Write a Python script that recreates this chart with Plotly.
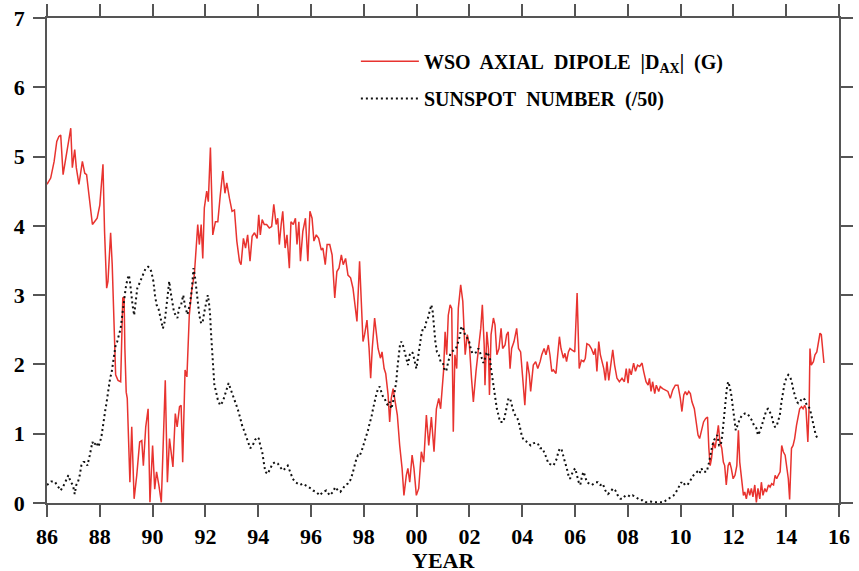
import numpy as np
import plotly.graph_objects as go

# ---- data (years given as yy offsets from 1900) ----
dipole_yy = [
    86.00, 86.14, 86.27, 86.37, 86.45, 86.52, 86.61, 86.71, 86.80, 86.90, 86.96, 87.05, 87.11, 87.21, 87.34,
    87.43, 87.50, 87.59, 87.65, 87.72, 87.80, 87.90, 88.00, 88.12, 88.18, 88.26, 88.31, 88.41, 88.47, 88.54,
    88.60, 88.69, 88.79, 88.87, 88.92, 88.95, 89.00, 89.04, 89.10, 89.14, 89.21, 89.30, 89.40, 89.51, 89.59,
    89.65, 89.74, 89.83, 89.90, 90.00, 90.08, 90.15, 90.24, 90.33, 90.48, 90.56, 90.64, 90.77, 90.86, 90.93,
    91.02, 91.08, 91.14, 91.23, 91.30, 91.39, 91.49, 91.58, 91.65, 91.71, 91.77, 91.84, 91.90, 91.96, 92.05,
    92.11, 92.19, 92.28, 92.38, 92.47, 92.56, 92.66, 92.74, 92.81, 92.91, 93.01, 93.10, 93.19, 93.29, 93.35,
    93.44, 93.52, 93.60, 93.69, 93.77, 93.86, 93.96, 94.02, 94.08, 94.15, 94.23, 94.32, 94.42, 94.51, 94.59,
    94.68, 94.74, 94.80, 94.87, 94.93, 95.02, 95.09, 95.18, 95.24, 95.33, 95.41, 95.47, 95.54, 95.60, 95.69,
    95.79, 95.88, 95.96, 96.04, 96.11, 96.20, 96.29, 96.39, 96.45, 96.54, 96.61, 96.71, 96.80, 96.90, 96.98,
    97.06, 97.15, 97.22, 97.31, 97.40, 97.50, 97.59, 97.65, 97.74, 97.84, 97.91, 97.97, 98.03, 98.12, 98.20,
    98.26, 98.32, 98.41, 98.47, 98.54, 98.63, 98.69, 98.77, 98.83, 98.92, 98.98, 99.04, 99.11, 99.19, 99.27,
    99.36, 99.45, 99.52, 99.61, 99.67, 99.74, 99.83, 99.90, 99.99, 100.08, 100.18, 100.27, 100.37, 100.46, 100.56,
    100.66, 100.75, 100.84, 100.91, 101.02, 101.08, 101.14, 101.20, 101.27, 101.33, 101.39, 101.45, 101.52, 101.58, 101.67,
    101.75, 101.84, 101.92, 102.00, 102.08, 102.15, 102.25, 102.34, 102.43, 102.49, 102.56, 102.59, 102.66, 102.72, 102.76,
    102.82, 102.91, 102.97, 103.04, 103.12, 103.20, 103.26, 103.35, 103.41, 103.47, 103.54, 103.60, 103.69, 103.79, 103.86,
    103.94, 104.01, 104.10, 104.19, 104.27, 104.32, 104.42, 104.51, 104.59, 104.68, 104.74, 104.83, 104.90, 104.99, 105.05,
    105.12, 105.18, 105.28, 105.34, 105.41, 105.47, 105.56, 105.62, 105.68, 105.75, 105.81, 105.88, 105.99, 106.08, 106.16,
    106.24, 106.33, 106.39, 106.45, 106.54, 106.62, 106.71, 106.77, 106.83, 106.90, 106.96, 107.02, 107.09, 107.15, 107.21,
    107.28, 107.34, 107.43, 107.50, 107.59, 107.68, 107.78, 107.87, 107.94, 108.01, 108.06, 108.13, 108.22, 108.29, 108.37,
    108.45, 108.54, 108.60, 108.69, 108.77, 108.82, 108.88, 108.94, 109.02, 109.08, 109.17, 109.23, 109.32, 109.42, 109.52,
    109.61, 109.70, 109.80, 109.90, 109.99, 110.05, 110.12, 110.18, 110.24, 110.31, 110.37, 110.43, 110.52, 110.59, 110.66,
    110.72, 110.79, 110.87, 110.95, 111.02, 111.07, 111.12, 111.17, 111.24, 111.31, 111.37, 111.43, 111.49, 111.56, 111.62,
    111.67, 111.73, 111.80, 111.86, 111.92, 111.99, 112.06, 112.13, 112.19, 112.24, 112.30, 112.38, 112.43, 112.49, 112.56,
    112.62, 112.68, 112.74, 112.81, 112.87, 112.93, 113.00, 113.06, 113.12, 113.19, 113.25, 113.33, 113.39, 113.45, 113.52,
    113.58, 113.64, 113.70, 113.77, 113.83, 113.89, 113.96, 114.02, 114.08, 114.13, 114.20, 114.26, 114.32, 114.39, 114.45,
    114.51, 114.58, 114.64, 114.70, 114.75, 114.82, 114.87, 114.90, 114.95, 115.03, 115.09, 115.16, 115.22, 115.28, 115.33,
    115.38, 115.43,
]
dipole_g = [
    4.60, 4.69, 4.93, 5.22, 5.29, 5.31, 4.74, 4.98, 5.15, 5.41, 4.84, 5.10, 4.84, 4.60, 4.93,
    4.76, 4.74, 4.45, 4.30, 4.02, 4.06, 4.11, 4.30, 4.89, 3.92, 3.10, 3.20, 3.90, 3.44, 2.62,
    1.85, 1.77, 1.75, 2.96, 2.97, 2.23, 1.60, 1.51, 0.79, 0.30, 1.10, 0.06, 0.40, 0.88, 0.90,
    0.54, 1.10, 1.36, 0.01, 0.83, 0.20, 0.45, 0.25, 0.01, 1.77, 0.30, 0.93, 0.52, 1.29, 1.10,
    1.39, 1.41, 0.59, 1.92, 1.82, 2.71, 3.10, 3.29, 3.68, 4.02, 3.73, 4.02, 3.53, 4.26, 4.50,
    4.35, 5.13, 3.87, 4.06, 4.06, 4.43, 4.79, 4.47, 4.62, 4.40, 4.21, 4.23, 3.78, 3.49, 3.44,
    3.82, 3.68, 3.87, 3.49, 3.85, 3.90, 3.82, 4.16, 3.87, 4.09, 4.02, 4.02, 3.97, 3.99, 4.31,
    4.02, 4.11, 3.73, 4.02, 4.21, 3.68, 3.87, 3.39, 4.06, 4.02, 4.11, 3.73, 4.06, 3.49, 3.92,
    4.11, 3.49, 4.21, 4.11, 3.78, 3.87, 3.82, 3.65, 3.68, 3.44, 3.73, 3.73, 3.58, 2.96, 3.34,
    3.39, 3.58, 3.44, 3.53, 3.29, 3.25, 3.10, 2.91, 2.62, 3.49, 2.71, 2.33, 2.43, 2.64, 2.23,
    1.80, 2.23, 2.67, 2.47, 2.23, 2.09, 2.18, 1.94, 1.87, 1.56, 1.17, 1.51, 1.65, 1.46, 1.27,
    0.83, 0.50, 0.11, 0.40, 0.50, 0.30, 0.69, 0.50, 0.11, 0.21, 0.74, 0.59, 1.27, 0.83, 1.24,
    0.74, 1.36, 1.51, 1.36, 1.90, 2.47, 2.14, 2.71, 2.86, 2.81, 1.03, 2.14, 1.94, 2.81, 3.15,
    2.91, 2.14, 2.43, 2.28, 1.80, 1.46, 1.90, 2.23, 2.52, 2.86, 2.28, 1.70, 2.47, 2.23, 1.56,
    2.43, 2.67, 2.57, 2.14, 2.23, 2.52, 2.23, 2.28, 2.43, 2.47, 1.94, 2.23, 2.33, 2.52, 2.23,
    2.18, 1.85, 1.41, 2.04, 1.85, 1.61, 1.99, 2.04, 1.94, 2.04, 2.14, 2.23, 2.14, 2.28, 2.14,
    1.90, 1.92, 1.87, 2.14, 2.40, 2.23, 2.09, 2.16, 2.04, 2.18, 2.23, 2.21, 2.18, 3.03, 1.94,
    2.06, 2.04, 2.09, 2.30, 2.28, 2.23, 2.14, 2.23, 1.90, 2.33, 2.14, 2.04, 1.94, 1.77, 2.04,
    1.77, 1.94, 2.21, 1.99, 1.80, 1.75, 1.80, 1.75, 1.94, 1.73, 1.94, 1.85, 2.02, 1.90, 1.99,
    1.97, 2.02, 1.90, 1.75, 1.70, 1.80, 1.61, 1.75, 1.58, 1.70, 1.61, 1.68, 1.65, 1.63, 1.61,
    1.51, 1.63, 1.70, 1.70, 1.51, 1.32, 1.56, 1.61, 1.56, 1.61, 1.58, 1.46, 1.36, 1.17, 0.98,
    0.93, 1.03, 1.17, 1.22, 1.24, 0.79, 0.54, 0.64, 0.88, 0.79, 0.98, 1.12, 0.88, 0.79, 0.59,
    0.54, 0.26, 0.54, 0.59, 0.50, 0.35, 0.40, 0.54, 1.05, 0.59, 0.40, 0.11, 0.16, 0.06, 0.21,
    0.11, 0.21, 0.09, 0.26, 0.01, 0.21, 0.06, 0.30, 0.11, 0.21, 0.16, 0.26, 0.23, 0.28, 0.26,
    0.40, 0.35, 0.40, 0.45, 0.83, 0.74, 0.69, 0.50, 0.35, 0.05, 0.79, 0.83, 0.93, 1.12, 1.27,
    1.36, 1.39, 1.36, 1.41, 1.36, 0.88, 1.41, 2.23, 1.99, 2.04, 2.14, 2.18, 2.33, 2.45, 2.43,
    2.23, 2.02,
]

sunspot_yy = [
    86.00, 86.16, 86.29, 86.39, 86.52, 86.64, 86.71, 86.81, 86.90, 86.98, 87.05, 87.11, 87.17, 87.24, 87.30,
    87.38, 87.46, 87.53, 87.62, 87.72, 87.78, 87.87, 87.94, 88.01, 88.07, 88.13, 88.20, 88.26, 88.32, 88.39,
    88.45, 88.50, 88.55, 88.60, 88.66, 88.73, 88.79, 88.85, 88.92, 88.98, 89.04, 89.10, 89.14, 89.19, 89.24,
    89.30, 89.36, 89.42, 89.48, 89.55, 89.61, 89.67, 89.74, 89.83, 89.90, 89.95, 90.03, 90.09, 90.15, 90.22,
    90.28, 90.34, 90.39, 90.46, 90.52, 90.58, 90.63, 90.68, 90.75, 90.81, 90.87, 90.94, 91.00, 91.08, 91.16,
    91.23, 91.32, 91.42, 91.49, 91.55, 91.61, 91.65, 91.71, 91.77, 91.84, 91.90, 91.96, 92.03, 92.09, 92.13,
    92.18, 92.21, 92.25, 92.28, 92.30, 92.34, 92.40, 92.47, 92.56, 92.66, 92.74, 92.82, 92.88, 92.95, 93.04,
    93.14, 93.22, 93.31, 93.39, 93.48, 93.57, 93.64, 93.70, 93.79, 93.88, 93.96, 94.02, 94.08, 94.15, 94.21,
    94.27, 94.36, 94.45, 94.55, 94.64, 94.74, 94.83, 94.93, 95.03, 95.12, 95.21, 95.31, 95.41, 95.50, 95.59,
    95.69, 95.79, 95.89, 95.99, 96.08, 96.20, 96.33, 96.45, 96.58, 96.71, 96.83, 96.92, 97.02, 97.11, 97.21,
    97.30, 97.40, 97.49, 97.57, 97.65, 97.72, 97.78, 97.84, 97.91, 97.97, 98.03, 98.10, 98.16, 98.22, 98.29,
    98.35, 98.41, 98.47, 98.54, 98.60, 98.66, 98.73, 98.79, 98.85, 98.92, 98.98, 99.04, 99.11, 99.17, 99.23,
    99.27, 99.32, 99.37, 99.42, 99.48, 99.55, 99.61, 99.67, 99.74, 99.80, 99.86, 99.93, 99.99, 100.05, 100.12,
    100.18, 100.24, 100.31, 100.37, 100.43, 100.49, 100.56, 100.61, 100.66, 100.71, 100.77, 100.84, 100.91, 101.00, 101.04,
    101.12, 101.20, 101.27, 101.33, 101.42, 101.49, 101.58, 101.65, 101.68, 101.73, 101.80, 101.86, 101.92, 101.99, 102.05,
    102.11, 102.18, 102.28, 102.34, 102.40, 102.47, 102.53, 102.59, 102.66, 102.72, 102.78, 102.82, 102.87, 102.91, 102.97,
    103.04, 103.10, 103.16, 103.22, 103.29, 103.35, 103.41, 103.48, 103.54, 103.60, 103.67, 103.73, 103.82, 103.88, 103.92,
    103.98, 104.05, 104.15, 104.23, 104.32, 104.42, 104.51, 104.59, 104.68, 104.77, 104.87, 104.93, 104.99, 105.08, 105.18,
    105.25, 105.31, 105.37, 105.43, 105.50, 105.56, 105.62, 105.69, 105.75, 105.81, 105.88, 105.94, 106.01, 106.08, 106.14,
    106.20, 106.27, 106.33, 106.39, 106.45, 106.54, 106.64, 106.77, 106.87, 106.96, 107.05, 107.15, 107.25, 107.34, 107.44,
    107.53, 107.62, 107.72, 107.81, 107.91, 108.01, 108.10, 108.18, 108.29, 108.39, 108.47, 108.56, 108.66, 108.77, 108.88,
    108.98, 109.07, 109.17, 109.27, 109.36, 109.45, 109.55, 109.64, 109.74, 109.83, 109.90, 109.96, 110.03, 110.09, 110.18,
    110.26, 110.33, 110.41, 110.49, 110.56, 110.63, 110.71, 110.79, 110.85, 110.99, 111.08, 111.14, 111.20, 111.27, 111.33,
    111.39, 111.46, 111.52, 111.58, 111.62, 111.67, 111.71, 111.75, 111.80, 111.86, 111.92, 111.96, 112.00, 112.05, 112.09,
    112.15, 112.25, 112.34, 112.43, 112.53, 112.62, 112.69, 112.78, 112.87, 112.93, 113.00, 113.06, 113.12, 113.19, 113.25,
    113.31, 113.38, 113.44, 113.50, 113.57, 113.63, 113.69, 113.76, 113.82, 113.88, 113.94, 114.00, 114.08, 114.15, 114.21,
    114.27, 114.34, 114.40, 114.46, 114.53, 114.59, 114.65, 114.71, 114.78, 114.84, 114.90, 114.95, 115.01, 115.06, 115.12,
    115.18, 115.24,
]
sunspot_over50 = [
    0.26, 0.31, 0.31, 0.26, 0.18, 0.26, 0.33, 0.40, 0.30, 0.26, 0.13, 0.26, 0.30, 0.40, 0.54,
    0.59, 0.59, 0.54, 0.69, 0.88, 0.83, 0.88, 0.81, 0.88, 0.98, 1.17, 1.32, 1.46, 1.65, 1.80,
    1.89, 2.04, 2.14, 2.28, 2.33, 2.43, 2.52, 2.71, 2.96, 3.10, 3.22, 3.29, 3.20, 3.00, 2.86,
    2.71, 2.91, 3.10, 3.15, 3.22, 3.29, 3.34, 3.39, 3.41, 3.39, 3.34, 3.20, 3.00, 2.86, 2.81,
    2.71, 2.62, 2.52, 2.62, 2.81, 3.05, 3.20, 3.05, 2.86, 2.76, 2.71, 2.67, 2.81, 2.86, 3.00,
    2.84, 2.72, 2.88, 3.10, 3.39, 3.25, 3.10, 2.91, 2.71, 2.59, 2.62, 2.76, 2.91, 3.00, 2.91,
    2.71, 2.47, 2.23, 2.04, 1.85, 1.70, 1.61, 1.49, 1.41, 1.46, 1.56, 1.65, 1.73, 1.65, 1.56,
    1.46, 1.36, 1.24, 1.12, 1.03, 0.93, 0.83, 0.79, 0.83, 0.91, 0.95, 0.93, 0.83, 0.74, 0.59,
    0.45, 0.42, 0.50, 0.57, 0.59, 0.57, 0.52, 0.47, 0.50, 0.54, 0.45, 0.35, 0.30, 0.28, 0.26,
    0.28, 0.26, 0.23, 0.21, 0.18, 0.16, 0.11, 0.16, 0.18, 0.11, 0.16, 0.23, 0.18, 0.16, 0.21,
    0.26, 0.28, 0.33, 0.42, 0.54, 0.64, 0.69, 0.68, 0.74, 0.81, 0.88, 0.95, 1.05, 1.15, 1.24,
    1.36, 1.49, 1.56, 1.65, 1.68, 1.61, 1.53, 1.51, 1.44, 1.41, 1.46, 1.36, 1.46, 1.61, 1.75,
    1.94, 2.14, 2.28, 2.33, 2.28, 2.18, 2.09, 1.99, 2.14, 2.18, 2.16, 2.04, 1.94, 2.09, 2.28,
    2.43, 2.52, 2.52, 2.62, 2.67, 2.76, 2.86, 2.76, 2.52, 2.33, 2.18, 2.14, 2.04, 2.02, 1.94,
    1.90, 2.04, 2.14, 2.18, 2.21, 2.23, 2.33, 2.43, 2.52, 2.55, 2.47, 2.40, 2.38, 2.33, 2.23,
    2.16, 2.16, 2.18, 2.23, 2.18, 2.09, 2.02, 2.09, 2.18, 2.14, 2.09, 1.94, 1.80, 1.65, 1.51,
    1.36, 1.27, 1.17, 1.17, 1.17, 1.27, 1.41, 1.51, 1.51, 1.41, 1.32, 1.27, 1.22, 1.15, 1.08,
    0.98, 0.91, 0.89, 0.86, 0.83, 0.86, 0.87, 0.86, 0.79, 0.79, 0.71, 0.64, 0.57, 0.55, 0.54,
    0.59, 0.64, 0.74, 0.79, 0.76, 0.69, 0.59, 0.50, 0.40, 0.35, 0.42, 0.47, 0.50, 0.40, 0.30,
    0.26, 0.40, 0.45, 0.38, 0.30, 0.28, 0.26, 0.30, 0.30, 0.26, 0.28, 0.18, 0.13, 0.16, 0.21,
    0.18, 0.11, 0.06, 0.06, 0.11, 0.11, 0.09, 0.11, 0.09, 0.06, 0.04, 0.04, 0.01, 0.01, 0.02,
    0.01, 0.01, 0.01, 0.02, 0.01, 0.04, 0.06, 0.09, 0.11, 0.16, 0.21, 0.26, 0.30, 0.26, 0.28,
    0.26, 0.30, 0.35, 0.40, 0.42, 0.45, 0.42, 0.50, 0.45, 0.45, 0.59, 0.74, 0.83, 0.91, 0.95,
    0.98, 0.83, 0.83, 0.98, 1.17, 1.36, 1.51, 1.65, 1.75, 1.68, 1.56, 1.41, 1.32, 1.17, 1.05,
    1.12, 1.22, 1.27, 1.29, 1.29, 1.24, 1.20, 1.12, 1.08, 0.98, 1.03, 1.10, 1.17, 1.24, 1.34,
    1.36, 1.32, 1.27, 1.17, 1.10, 1.10, 1.17, 1.27, 1.46, 1.61, 1.73, 1.80, 1.85, 1.82, 1.75,
    1.63, 1.53, 1.46, 1.44, 1.46, 1.51, 1.51, 1.49, 1.41, 1.39, 1.36, 1.27, 1.17, 1.08, 0.98,
    0.94, 0.93,
]

tick_years = list(range(1986, 2017, 2))
tick_labels = ["86", "88", "90", "92", "94", "96", "98", "00", "02", "04", "06", "08", "10", "12", "14", "16"]

dipole_year = 1900 + np.array(dipole_yy)
sunspot_year = 1900 + np.array(sunspot_yy)

NB = "\u00a0"
name_dipole = f"WSO{NB} AXIAL{NB} DIPOLE{NB} |D<sub>AX</sub>|{NB} (G)"
name_sunspot = f"SUNSPOT{NB} NUMBER{NB} (/50)"

serif = "Liberation Serif"

fig = go.Figure()
fig.add_trace(go.Scatter(
    x=dipole_year, y=dipole_g, mode="lines", name=name_dipole,
    line=dict(color="#e8332f", width=1.5), legend="legend",
))
fig.add_trace(go.Scatter(
    x=sunspot_year, y=sunspot_over50, mode="lines", name=name_sunspot,
    line=dict(color="#111111", width=2, dash="2px,3px"), legend="legend2",
))

axis_common = dict(
    showline=True, linecolor="#555555", linewidth=1.5, mirror="ticks",
    ticks="outside", ticklen=12, tickwidth=1.5, tickcolor="#555555",
    showgrid=False, zeroline=False, automargin=False,
    tickfont=dict(family=serif, size=22, color="black", weight="bold"),
)

legend_font = dict(family=serif, size=20, color="black", weight="bold")

fig.update_layout(
    width=859, height=571,
    margin=dict(l=47, r=20, t=18, b=68, autoexpand=False),
    paper_bgcolor="white", plot_bgcolor="white",
    showlegend=True,
    xaxis=dict(range=[1986, 2016], tickvals=tick_years, ticktext=tick_labels,
               ticklabelstandoff=1, **axis_common),
    yaxis=dict(range=[0, 7], dtick=1, ticklabelstandoff=4, **axis_common),
    legend=dict(x=0.390, y=0.951, xanchor="left", yanchor="top", bgcolor="rgba(0,0,0,0)",
                itemwidth=58, font=legend_font),
    legend2=dict(x=0.390, y=0.874, xanchor="left", yanchor="top", bgcolor="rgba(0,0,0,0)",
                 itemwidth=58, font=legend_font),
    annotations=[dict(text="YEAR", xref="paper", yref="paper", x=0.5, y=-0.1175,
                      xanchor="center", yanchor="middle", showarrow=False,
                      height=22, valign="middle", borderpad=0,
                      font=dict(family=serif, size=22, color="black", weight="bold"))],
)

fig.write_html("out.html")
